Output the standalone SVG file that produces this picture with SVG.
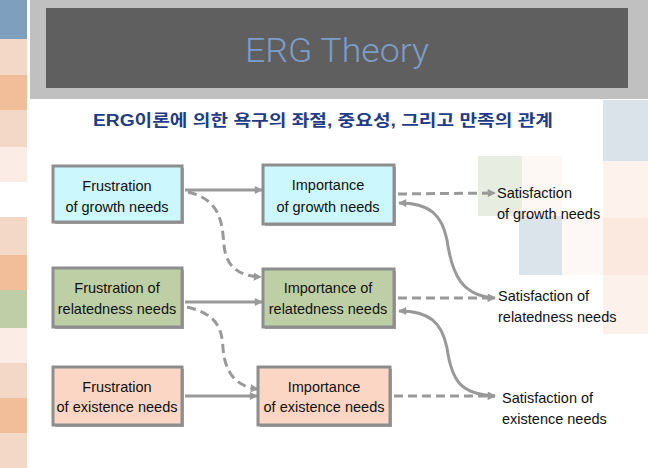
<svg xmlns="http://www.w3.org/2000/svg" width="648" height="468" viewBox="0 0 648 468">
<style>
.box{stroke:#8e8e8e;stroke-width:3}
.shadow{fill:#a6a6a6}
.t{font-family:"Liberation Sans",Arial,sans-serif;font-size:14.5px;fill:#111;text-anchor:middle}
.s{font-family:"Liberation Sans",Arial,sans-serif;font-size:14.5px;fill:#111}
.ln{fill:none;stroke:#999;stroke-width:3}
.dash{stroke-dasharray:9 5}
</style>
<defs>
<marker id="ah" viewBox="0 0 10 10" refX="9" refY="5" markerWidth="9" markerHeight="8" markerUnits="userSpaceOnUse" orient="auto-start-reverse">
<path d="M0,0 L10,5 L0,10 z" fill="#999"/>
</marker>
</defs>
<rect width="648" height="468" fill="#fff"/>
<g id="background">
<rect x="0" y="0" width="27" height="39" fill="#7f9fbe"/>
<rect x="0" y="39" width="27" height="36" fill="#f4d8c7"/>
<rect x="0" y="75" width="27" height="35" fill="#f2bd99"/>
<rect x="0" y="110" width="27" height="37" fill="#f4d8c7"/>
<rect x="0" y="147" width="27" height="35" fill="#fbede6"/>
<rect x="0" y="217" width="27" height="38" fill="#f4d8c7"/>
<rect x="0" y="255" width="27" height="35" fill="#f2bd99"/>
<rect x="0" y="290" width="27" height="38" fill="#bfcea6"/>
<rect x="0" y="328" width="27" height="35" fill="#fbede6"/>
<rect x="0" y="363" width="27" height="35" fill="#f4d8c7"/>
<rect x="0" y="398" width="27" height="35" fill="#f2bd99"/>
<rect x="0" y="433" width="27" height="35" fill="#f4d8c7"/>
<rect x="603" y="100" width="45" height="61" fill="#dbe3ea"/>
<rect x="603" y="161" width="45" height="57" fill="#fdf2ec"/>
<rect x="603" y="218" width="45" height="57" fill="#fbe9df"/>
<rect x="603" y="275" width="45" height="59" fill="#fcf1eb"/>
<rect x="478" y="156" width="44" height="60" fill="#e8ede1"/>
<rect x="522" y="156" width="40" height="60" fill="#fdf8f4"/>
<rect x="519" y="216" width="43" height="59" fill="#dce4eb"/>
<rect x="562" y="216" width="41" height="59" fill="#fdf8f5"/>
<rect x="30" y="0" width="618" height="99" fill="#c0c0c0"/>
<rect x="46" y="8" width="582" height="80" fill="#5f5f5f"/>
<text x="337" y="62" font-family="Roboto,'Liberation Sans',sans-serif" font-weight="300" font-size="34" fill="#7d9cc8" text-anchor="middle" textLength="184" lengthAdjust="spacingAndGlyphs">ERG Theory</text>
<text x="93" y="126" font-family="'Liberation Sans','Noto Sans CJK KR',sans-serif" font-weight="bold" font-size="16" fill="#1f3c88" textLength="460" lengthAdjust="spacingAndGlyphs">ERG이론에 의한 욕구의 좌절, 중요성, 그리고 만족의 관계</text>
</g>
<g id="connectors">
<line class="ln" x1="185" y1="190" x2="262" y2="190" marker-end="url(#ah)"/>
<line class="ln" x1="185" y1="302" x2="262" y2="302" marker-end="url(#ah)"/>
<line class="ln" x1="185" y1="396" x2="257" y2="396" marker-end="url(#ah)"/>
<path class="ln dash" d="M188,192 C222,200 222,225 224,245 C226,268 240,276 261,277" marker-end="url(#ah)"/>
<path class="ln dash" d="M187,307 C218,314 222,330 223,348 C225,375 238,387 258,389" marker-end="url(#ah)"/>
<line class="ln dash" x1="398" y1="194" x2="495" y2="193" marker-end="url(#ah)"/>
<line class="ln dash" x1="398" y1="298" x2="495" y2="298" marker-end="url(#ah)"/>
<line class="ln dash" x1="394" y1="396" x2="495" y2="396" marker-end="url(#ah)"/>
<path class="ln" d="M399,203 C430,203 442,215 447,240 C452,275 462,296 495,298" marker-start="url(#ah)" marker-end="url(#ah)"/>
<path class="ln" d="M399,311 C430,311 442,323 447,348 C452,383 462,394 495,396" marker-start="url(#ah)" marker-end="url(#ah)"/>
</g>
<g id="frustration-growth">
<rect class="shadow" x="55" y="168" width="129" height="56"/>
<rect class="box" x="53" y="166" width="129" height="56" fill="#ccf7fc"/>
<text class="t" x="117" y="191">Frustration</text>
<text class="t" x="117" y="212">of growth needs</text>
</g>
<g id="frustration-relatedness">
<rect class="shadow" x="55" y="270" width="129" height="59"/>
<rect class="box" x="53" y="268" width="129" height="59" fill="#bfcfa5"/>
<text class="t" x="117" y="293">Frustration of</text>
<text class="t" x="117" y="314">relatedness needs</text>
</g>
<g id="frustration-existence">
<rect class="shadow" x="55" y="369" width="129" height="58"/>
<rect class="box" x="53" y="367" width="129" height="58" fill="#fcd6c4"/>
<text class="t" x="117" y="392">Frustration</text>
<text class="t" x="117" y="412">of existence needs</text>
</g>
<g id="importance-growth">
<rect class="shadow" x="265" y="167" width="131" height="59"/>
<rect class="box" x="263" y="165" width="131" height="59" fill="#ccf7fc"/>
<text class="t" x="328" y="190">Importance</text>
<text class="t" x="328" y="212">of growth needs</text>
</g>
<g id="importance-relatedness">
<rect class="shadow" x="265" y="271" width="131" height="58"/>
<rect class="box" x="263" y="269" width="131" height="58" fill="#bfcfa5"/>
<text class="t" x="328" y="293">Importance of</text>
<text class="t" x="328" y="314">relatedness needs</text>
</g>
<g id="importance-existence">
<rect class="shadow" x="260" y="369" width="132" height="58"/>
<rect class="box" x="258" y="367" width="132" height="58" fill="#fcd6c4"/>
<text class="t" x="324" y="392">Importance</text>
<text class="t" x="324" y="412">of existence needs</text>
</g>
<g id="satisfaction-growth">
<text class="s" x="497" y="198">Satisfaction</text>
<text class="s" x="497" y="219">of growth needs</text>
</g>
<g id="satisfaction-relatedness">
<text class="s" x="498" y="301">Satisfaction of</text>
<text class="s" x="498" y="322">relatedness needs</text>
</g>
<g id="satisfaction-existence">
<text class="s" x="502" y="403">Satisfaction of</text>
<text class="s" x="502" y="424">existence needs</text>
</g>
</svg>
